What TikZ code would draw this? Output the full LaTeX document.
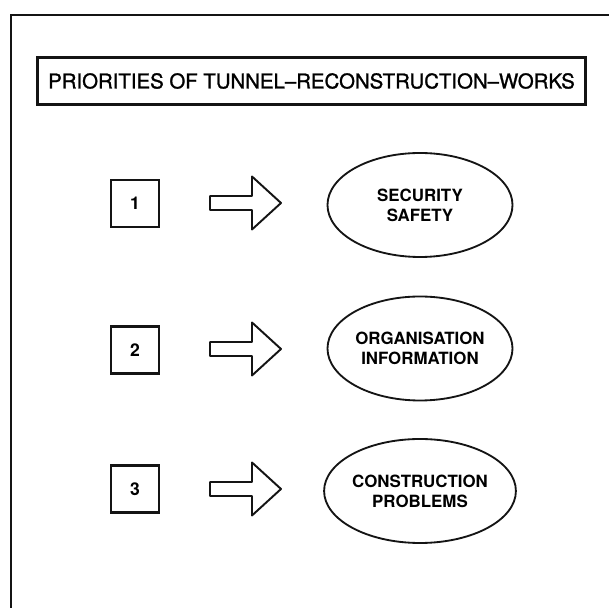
\documentclass[tikz,border=0pt]{standalone}
\usepackage{fontspec}
\setmainfont{TeX Gyre Heros}
\newfontfamily\titlefont[FakeBold=1.2,Ligatures=TeX]{TeX Gyre Heros}
\usepackage{xcolor}
\usepackage{tikz}
\usetikzlibrary{shapes.geometric}
\definecolor{TRInk}{HTML}{141414}
\definecolor{TRPaper}{HTML}{FFFFFF}

\tikzset{
  numbox/.style={draw=TRInk,line width=1.4pt,minimum width=0.96cm,minimum height=0.94cm,inner sep=0pt,font=\fontsize{10}{11}\selectfont\bfseries},
  goal/.style={draw=TRInk,line width=1.05pt,ellipse,minimum width=3.70cm,minimum height=2.08cm,inner sep=0pt,align=center,font=\fontsize{9.6}{11.4}\selectfont\bfseries},
  hollow/.style={draw=TRInk,line width=1.1pt,line join=round}
}

\begin{document}
\begin{tikzpicture}[x=1cm,y=1cm]
\path[use as bounding box] (0,0) rectangle (12.18,12.16);
\fill[TRPaper] (0,0) rectangle (12.18,12.16);
\draw[TRInk,line width=1.1pt] (12.30,11.86) -- (0.22,11.86) -- (0.22,-0.10);
\node[draw=TRInk,line width=1.2pt,minimum width=10.96cm,minimum height=0.94cm,inner sep=0pt] (title) at (6.23,10.54) {\titlefont\fontsize{11.6}{14}\selectfont PRIORITIES OF TUNNEL–RECONSTRUCTION–WORKS};
% priority 1
\node[numbox] (num1) at (2.70,8.09) {1};
\draw[hollow] (4.20,7.96) -- (5.04,7.96) -- (5.04,7.57) -- (5.62,8.10) -- (5.04,8.63) -- (5.04,8.24) -- (4.20,8.24) -- cycle;
\node[goal] (goal1) at (8.40,8.06) {SECURITY\\SAFETY};
% priority 2
\node[numbox] (num2) at (2.70,5.16) {2};
\draw[hollow] (4.20,5.04) -- (5.04,5.04) -- (5.04,4.65) -- (5.62,5.18) -- (5.04,5.71) -- (5.04,5.32) -- (4.20,5.32) -- cycle;
\node[goal] (goal2) at (8.40,5.19) {ORGANISATION\\INFORMATION};
% priority 3
\node[numbox] (num3) at (2.70,2.38) {3};
\draw[hollow] (4.20,2.24) -- (5.04,2.24) -- (5.04,1.85) -- (5.62,2.38) -- (5.04,2.91) -- (5.04,2.52) -- (4.20,2.52) -- cycle;
\node[goal] (goal3) at (8.40,2.34) {CONSTRUCTION\\PROBLEMS};
\end{tikzpicture}
\end{document}
